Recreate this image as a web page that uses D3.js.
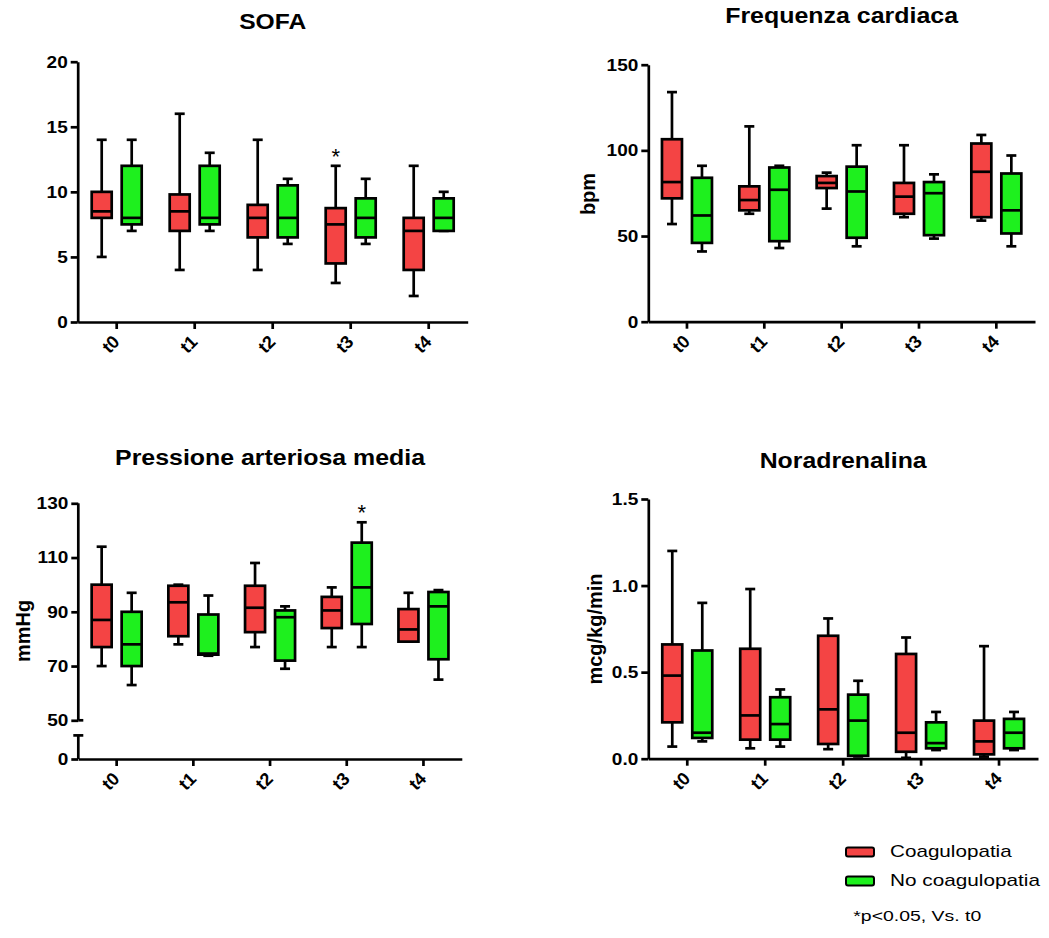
<!DOCTYPE html>
<html><head><meta charset="utf-8">
<script src="https://cdn.jsdelivr.net/npm/d3@7"></script>
<style>
body{margin:0;background:#fff;}
text{font-family:"Liberation Sans", Arial, sans-serif;fill:#000;}
</style></head><body>
<svg id="chart" width="1049" height="938"></svg>
<script>
const categories = ["t0","t1","t2","t3","t4"];
const seriesNames = ["Coagulopatia","No coagulopatia"];
const seriesColors = ["#f44444","#1ef01e"];
// each box: [min, q1, median, q3, max]
const sofaCoag   = [[5,8,8.5,10,14],[4,7,8.5,9.8,16],[4,6.5,8,9,14],[3,4.5,7.5,8.75,12],[2,4,7,8,12]];
const sofaNoCoag = [[7,7.5,8,12,14],[7,7.5,8,12,13],[6,6.5,8,10.5,11],[6,6.5,8,9.5,11],[7,7,8,9.5,10]];
const hrCoag     = [[57,72,81.5,106.5,134],[63,65,71,79,114],[66,78,81,85,87],[61,63,73,81,103],[59,61,87.5,104,109]];
const hrNoCoag   = [[41,46,62,84,91],[43,47,77,90,91],[44,49,76,90.5,103],[48.5,50.5,75,81.5,86],[44,51.5,65,86.5,97]];
const mapCoag    = [[70,77,87,100,114],[78,81,93.5,99.6,100],[77,82.5,91.5,99.6,108],[77,84,90.5,95.5,99],[79,79,83.5,91,97]];
const mapNoCoag  = [[63,70,78,90,97],[73.8,74.2,74.6,89,96],[69,72,88,90.5,92],[77,85.5,99,115.5,123],[65,72.5,92,97.3,98]];
const nadCoag    = [[0.07,0.21,0.48,0.66,1.2],[0.06,0.11,0.25,0.635,0.98],[0.055,0.085,0.285,0.71,0.81],[0.005,0.04,0.15,0.605,0.70],[0.012,0.025,0.10,0.22,0.65]];
const nadNoCoag  = [[0.10,0.12,0.15,0.625,0.90],[0.07,0.11,0.20,0.355,0.40],[0.013,0.017,0.22,0.37,0.45],[0.05,0.06,0.09,0.21,0.27],[0.05,0.06,0.15,0.23,0.27]];
const panelTitles = ["SOFA","Frequenza cardiaca","Pressione arteriosa media","Noradrenalina"];
const yLabels = ["","bpm","mmHg","mcg/kg/min"];
const sofaTicks = [0,5,10,15,20];
const hrTicks = [0,50,100,150];
const mapTicks = [0,50,70,90,110,130];
const nadTicks = [0,0.5,1.0,1.5];
const significance = [{panel:0, category:"t3", series:0},{panel:2, category:"t3", series:1}];
const footnote = "*p<0.05, Vs. t0";

const svg = d3.select("#chart");

const panels = [
  {data:[sofaCoag,sofaNoCoag], ticks:sofaTicks, fmt:d3.format("d"), left:77.7, right:467.7,
   yDomain:[0,20], yRange:[322,61.7], titleY:29, titleW:67, label:null},
  {data:[hrCoag,hrNoCoag], ticks:hrTicks, fmt:d3.format("d"), left:648.3, right:1035,
   yDomain:[0,150], yRange:[321.7,64.7], titleY:22.7, titleW:233, label:[587.5,194]},
  {data:[mapCoag,mapNoCoag], ticks:mapTicks, fmt:d3.format("d"), left:78.3, right:461.8,
   yDomain:[0,50,130], yRange:[759,720.3,503.3], titleY:465, titleW:310, label:[22.5,631], broken:true},
  {data:[nadCoag,nadNoCoag], ticks:nadTicks, fmt:d3.format(".1f"), left:648.3, right:1038,
   yDomain:[0,1.5], yRange:[758.7,499], titleY:468.3, titleW:167, label:[595,629]}
];

const boxOffset = [-15, 15], boxW = 20, capW = 10, SW = 2.7;

panels.forEach((p, pi) => {
  const g = svg.append("g");
  const x = d3.scaleBand().domain(categories).range([p.left, p.right]);
  const y = d3.scaleLinear().domain(p.yDomain).range(p.yRange);
  const bottom = y(0);

  g.append("text").attr("x", (p.left + p.right) / 2).attr("y", p.titleY)
    .attr("text-anchor", "middle").attr("font-weight", "bold").attr("font-size", 22)
    .attr("textLength", p.titleW).attr("lengthAdjust", "spacingAndGlyphs")
    .text(panelTitles[pi]);

  if (p.label) {
    g.append("text").attr("transform", `translate(${p.label[0]},${p.label[1]}) rotate(-90)`)
      .attr("text-anchor", "middle").attr("dominant-baseline", "central")
      .attr("font-weight", "bold").attr("font-size", 20).text(yLabels[pi]);
  }

  const ya = g.append("g").attr("transform", `translate(${p.left},0)`)
    .call(d3.axisLeft(y).tickValues(p.ticks).tickFormat(p.fmt).tickSize(7).tickSizeOuter(0).tickPadding(3));
  ya.selectAll("line").attr("stroke-width", SW);
  ya.select(".domain").attr("stroke-width", SW);
  ya.selectAll("text").attr("font-size", 17).attr("font-weight", "bold")
    .attr("font-family", "Liberation Sans, Arial, sans-serif")
    .attr("transform", "scale(1.12,1)").attr("x", -10 / 1.12);
  if (p.broken) {
    ya.select(".domain").remove();
    const lowTop = bottom + (y(50) - bottom) * 0.61;
    const ax = g.append("g").attr("transform", `translate(${p.left},0)`)
      .attr("stroke", "#000").attr("stroke-width", SW).attr("fill", "none");
    ax.append("line").attr("x1", 0).attr("x2", 0).attr("y1", y(50)).attr("y2", y(130));
    ax.append("line").attr("x1", 0).attr("x2", 0).attr("y1", bottom).attr("y2", lowTop);
    ax.append("line").attr("x1", -5).attr("x2", 5).attr("y1", lowTop).attr("y2", lowTop);
    ax.append("line").attr("x1", 0).attr("x2", 5).attr("y1", y(50)).attr("y2", y(50));
  }

  const xa = g.append("g").attr("transform", `translate(0,${bottom})`)
    .call(d3.axisBottom(x).tickSize(7).tickSizeOuter(0));
  xa.selectAll("line").attr("stroke-width", SW);
  xa.select(".domain").attr("stroke-width", SW);
  xa.selectAll("text").attr("x", null).attr("y", null).attr("dy", null)
    .attr("text-anchor", "end").attr("font-size", 18).attr("font-weight", "bold")
    .attr("font-family", "Liberation Sans, Arial, sans-serif")
    .attr("transform", "translate(4,21) rotate(-45)");

  p.data.forEach((series, si) => {
    series.forEach((b, ci) => {
      const cx = x(categories[ci]) + x.bandwidth() / 2 + boxOffset[si];
      const [mn, q1, md, q3, mx] = b;
      const bg = g.append("g").attr("stroke", "#000").attr("stroke-width", SW);
      bg.append("line").attr("x1", cx).attr("x2", cx).attr("y1", y(mn)).attr("y2", y(q1));
      bg.append("line").attr("x1", cx).attr("x2", cx).attr("y1", y(q3)).attr("y2", y(mx));
      bg.append("line").attr("x1", cx - capW / 2).attr("x2", cx + capW / 2).attr("y1", y(mn)).attr("y2", y(mn));
      bg.append("line").attr("x1", cx - capW / 2).attr("x2", cx + capW / 2).attr("y1", y(mx)).attr("y2", y(mx));
      bg.append("rect").attr("x", cx - boxW / 2).attr("width", boxW)
        .attr("y", y(q3)).attr("height", Math.max(0, y(q1) - y(q3)))
        .attr("fill", seriesColors[si]);
      bg.append("line").attr("x1", cx - boxW / 2).attr("x2", cx + boxW / 2).attr("y1", y(md)).attr("y2", y(md));
    });
  });

  significance.filter(s => s.panel === pi).forEach(s => {
    const ci = categories.indexOf(s.category);
    const cx = x(s.category) + x.bandwidth() / 2 + boxOffset[s.series];
    const mx = p.data[s.series][ci][4];
    g.append("text").attr("x", cx).attr("y", y(mx) - 2).attr("text-anchor", "middle")
      .attr("font-size", 22).text("*");
  });
});

const lg = svg.append("g");
const legendW = [121.7, 150];
seriesNames.forEach((n, i) => {
  const yy = 847.5 + i * 29;
  lg.append("rect").attr("x", 846).attr("y", yy).attr("width", 28).attr("height", 9)
    .attr("rx", 2).attr("fill", seriesColors[i]).attr("stroke", "#000").attr("stroke-width", 2);
  lg.append("text").attr("x", 890).attr("y", yy + 9.5).attr("font-size", 17)
    .attr("textLength", legendW[i]).attr("lengthAdjust", "spacingAndGlyphs").text(n);
});
lg.append("text").attr("x", 853.3).attr("y", 920.7).attr("font-size", 14)
  .attr("textLength", 128).attr("lengthAdjust", "spacingAndGlyphs").text(footnote);
</script>
</body></html>
